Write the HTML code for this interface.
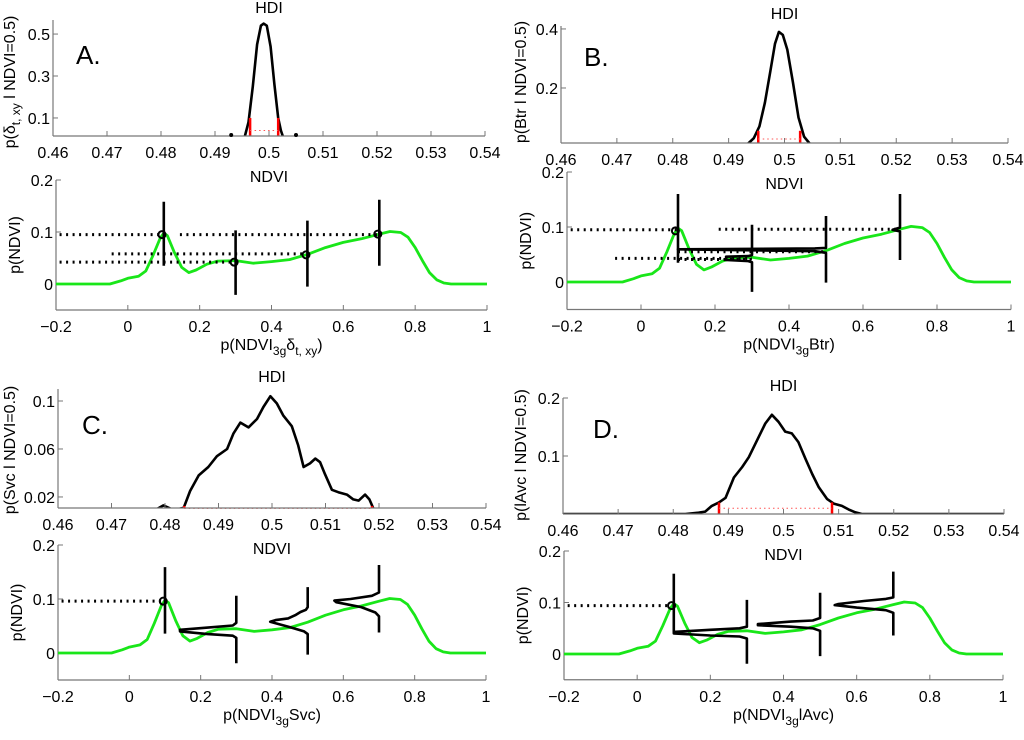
<!DOCTYPE html>
<html><head><meta charset="utf-8"><style>
html,body{margin:0;padding:0;background:#fff;}
svg text{font-family:"Liberation Sans",sans-serif;fill:#000;}
</style></head><body>
<svg id="fig" width="1024" height="735" viewBox="0 0 1024 735" xmlns="http://www.w3.org/2000/svg"></svg>
<script>
// ---- data ----
const ndviX = [-0.2,-0.1,-0.05,-0.02,0,0.03,0.05,0.07,0.09,0.1,0.11,0.13,0.15,0.17,0.19,0.22,0.25,0.3,0.35,0.4,0.45,0.5,0.55,0.6,0.65,0.7,0.73,0.76,0.78,0.8,0.82,0.84,0.86,0.88,0.9,1.0];
const ndviY = [0,0,0,0.006,0.011,0.015,0.025,0.055,0.088,0.098,0.093,0.06,0.032,0.022,0.027,0.038,0.044,0.045,0.04,0.043,0.047,0.057,0.07,0.08,0.087,0.096,0.101,0.099,0.09,0.07,0.045,0.022,0.008,0.002,0,0];

const hdiAX = [0.4955,0.4962,0.497,0.4978,0.4985,0.499,0.4996,0.5003,0.501,0.5017,0.5022,0.5026];
const hdiAY = [0.01,0.08,0.25,0.45,0.54,0.55,0.54,0.44,0.26,0.1,0.04,0.01];
const hdiBX = [0.4935,0.4945,0.4955,0.4965,0.4975,0.4983,0.499,0.4997,0.5005,0.5015,0.5025,0.5035,0.5045];
const hdiBY = [0.012,0.03,0.07,0.15,0.26,0.35,0.39,0.38,0.33,0.22,0.1,0.035,0.012];
const hdiCX = [0.4785,0.4797,0.4807,0.4816,0.4835,0.4847,0.4863,0.4881,0.4897,0.4916,0.4928,0.4941,0.4956,0.4972,0.4984,0.4997,0.5009,0.5021,0.5037,0.5049,0.5059,0.5071,0.5081,0.509,0.5099,0.5112,0.5124,0.514,0.5152,0.5162,0.5174,0.5182,0.519];
const hdiCY = [0.010,0.013,0.011,0.009,0.011,0.025,0.038,0.045,0.054,0.060,0.073,0.082,0.078,0.085,0.095,0.104,0.098,0.088,0.079,0.063,0.045,0.048,0.052,0.049,0.039,0.026,0.024,0.022,0.018,0.017,0.022,0.018,0.010];
const hdiDX = [0.46,0.4822,0.4846,0.4858,0.487,0.4883,0.4895,0.491,0.4925,0.4937,0.4955,0.4967,0.4979,0.4991,0.5003,0.5015,0.5027,0.504,0.5052,0.5064,0.5079,0.5091,0.5106,0.5118,0.513,0.5142,0.54];
const hdiDY = [0,0,0.0023,0.0041,0.014,0.020,0.028,0.063,0.081,0.098,0.133,0.156,0.171,0.159,0.142,0.139,0.124,0.095,0.069,0.046,0.026,0.018,0.014,0.008,0.003,0,0];

// HDI bounds [lo, hi, redTop, dottedY]
const hdiA = [0.4965,0.5017,0.1,0.04];
const hdiB = [0.4953,0.5028,0.055,0.027];
const hdiC = [0.4836,0.5187,0.0125,0.0105];
const hdiD = [0.4883,0.5088,0.02,0.01];

// sideways conditional densities
const sideA = [
 [[0.1,0.035],[0.1,0.158]],
 [[0.3,-0.021],[0.3,0.103]],
 [[0.5,-0.005],[0.5,0.122]],
 [[0.7,0.035],[0.7,0.162]]];
const circA = [[0.095,0.095],[0.296,0.042],[0.496,0.056],[0.696,0.096]];
const dotsA = [[-0.19,0.1,0.095],[0.145,0.7,0.095],[-0.045,0.5,0.058],[-0.19,0.3,0.042]];

const sideB = [
 [[0.1,0.035],[0.1,0.16]],
 [[0.3,-0.018],[0.3,0.036],[0.29,0.038],[0.23,0.04],[0.23,0.046],[0.29,0.047],[0.3,0.049],[0.3,0.104]],
 [[0.5,-0.001],[0.5,0.053],[0.47,0.056],[0.1,0.0595],[0.47,0.061],[0.5,0.062],[0.5,0.12]],
 [[0.7,0.04],[0.7,0.092],[0.68,0.095],[0.7,0.099],[0.7,0.16]]];
const circB = [[0.093,0.093]];
const dotsB = [[-0.19,0.1,0.095],[0.21,0.7,0.096],[0.1,0.5,0.055],[-0.07,0.3,0.043],[0.1,0.3,0.041]];

const sideC = [
 [[0.1,0.036],[0.1,0.159]],
 [[0.3,-0.019],[0.3,0.028],[0.29,0.032],[0.22,0.035],[0.142,0.04],[0.142,0.043],[0.22,0.047],[0.29,0.051],[0.3,0.056],[0.3,0.106]],
 [[0.5,-0.003],[0.5,0.035],[0.49,0.04],[0.45,0.048],[0.41,0.055],[0.395,0.058],[0.41,0.061],[0.445,0.064],[0.465,0.07],[0.48,0.076],[0.495,0.08],[0.5,0.085],[0.5,0.122]],
 [[0.7,0.038],[0.7,0.068],[0.69,0.075],[0.65,0.085],[0.58,0.094],[0.575,0.097],[0.62,0.1],[0.68,0.106],[0.7,0.112],[0.7,0.163]]];
const circC = [[0.095,0.096]];
const dotsC = [[-0.19,0.095,0.096]];

const sideD = [
 [[0.1,0.04],[0.1,0.156]],
 [[0.3,-0.019],[0.3,0.03],[0.28,0.034],[0.2,0.036],[0.1,0.04],[0.1,0.043],[0.2,0.047],[0.28,0.05],[0.3,0.053],[0.3,0.105]],
 [[0.5,-0.004],[0.5,0.045],[0.48,0.05],[0.42,0.053],[0.33,0.056],[0.33,0.058],[0.42,0.063],[0.48,0.065],[0.5,0.07],[0.5,0.119]],
 [[0.7,0.036],[0.7,0.08],[0.68,0.085],[0.6,0.09],[0.54,0.095],[0.55,0.097],[0.62,0.103],[0.68,0.107],[0.7,0.11],[0.7,0.16]]];
const circD = [[0.094,0.094]];
const dotsD = [[-0.19,0.094,0.094]];

const topXTicks = [0.46,0.47,0.48,0.49,0.5,0.51,0.52,0.53,0.54];
const topXLabels = ["0.46","0.47","0.48","0.49","0.5","0.51","0.52","0.53","0.54"];
const botXTicks = [-0.2,0,0.2,0.4,0.6,0.8,1];
const botXLabels = ["\u22120.2","0","0.2","0.4","0.6","0.8","1"];
const botYTicks = [0,0.1,0.2];
const botYLabels = ["0","0.1","0.2"];
const yTicksA=[0.1,0.3,0.5], yLabA=["0.1","0.3","0.5"];
const yTicksB=[0.2,0.4], yLabB=["0.2","0.4"];
const yTicksC=[0.02,0.06,0.1], yLabC=["0.02","0.06","0.1"];
const yTicksD=[0.1,0.2], yLabD=["0.1","0.2"];

// ---- drawing ----
const svg=document.getElementById('fig');
const NS='http://www.w3.org/2000/svg';
function mk(tag,attrs,parent){const e=document.createElementNS(NS,tag);for(const k in attrs)e.setAttribute(k,attrs[k]);(parent||svg).appendChild(e);return e;}
function scale(d0,d1,r0,r1){return v=>r0+(v-d0)/(d1-d0)*(r1-r0);}
function txt(x,y,s,size,anchor,parent,name,rot){const t=mk('text',{x:x,y:y,'font-size':size,'text-anchor':anchor||'middle'},parent);if(rot)t.setAttribute('transform','rotate(-90 '+x+' '+y+')');t.textContent=s;return t;}

function axes(g,sx,sy,x0,x1,y0,y1,xt,xl,yt,yl,tickLen){
  mk('line',{x1:x0,y1:y1,x2:x0,y2:y0,stroke:'#777','stroke-width':1.2},g);
  mk('line',{x1:x0,y1:y0,x2:x1,y2:y0,stroke:'#777','stroke-width':1.2},g);
  xt.forEach((v,i)=>{const x=sx(v);const l=mk('line',{x1:x,y1:y0,x2:x,y2:y0-tickLen,stroke:'#777','stroke-width':1},g);
    
    txt(x,y0+22,xl[i],16,'middle',g,'x-tick-label');});
  yt.forEach((v,i)=>{const y=sy(v);const l=mk('line',{x1:x0,y1:y,x2:x0+tickLen,y2:y,stroke:'#777','stroke-width':1},g);
    
    txt(x0-3,y+6,yl[i],16,'end',g,'y-tick-label');});
}
function poly(g,xs,ys,sx,sy,attrs,name){const pts=xs.map((x,i)=>sx(x).toFixed(1)+','+sy(ys[i]).toFixed(1)).join(' ');
  const p=mk('polyline',Object.assign({points:pts,fill:'none'},attrs),g);return p;}

function topPanel(cfg){
  const g=mk('g',{});
  const sx=scale(0.46,0.54,cfg.x0,cfg.x1), sy=scale(cfg.ymin,cfg.ymax,cfg.y0,cfg.y1);
  const cp=mk('clipPath',{id:'c'+cfg.name},g);mk('rect',{x:cfg.x0,y:cfg.y1-5,width:cfg.x1-cfg.x0,height:cfg.y0-cfg.y1+5},cp);
  const cg=mk('g',{'clip-path':'url(#c'+cfg.name+')'},g);
  poly(cg,cfg.xs,cfg.ys,sx,sy,{stroke:'#000','stroke-width':2.6,'stroke-linejoin':'round'},'posterior-curve');
  const h=cfg.hdi;
  [h[0],h[1]].forEach(v=>{const l=mk('line',{x1:sx(v),y1:cfg.y0,x2:sx(v),y2:sy(h[2]),stroke:'#f00','stroke-width':2.5},g);});
  const d=mk('line',{x1:sx(h[0]),y1:sy(h[3]),x2:sx(h[1]),y2:sy(h[3]),stroke:'#f55','stroke-width':1,'stroke-dasharray':'1.5 3'},g);
  
  axes(g,sx,sy,cfg.x0,cfg.x1,cfg.y0,cfg.y1,topXTicks,topXLabels,cfg.yt,cfg.yl,5);
  txt((cfg.x0+cfg.x1)/2,cfg.y1-7,'HDI',16,'middle',g,'plot-title');
  txt((cfg.x0+cfg.x1)/2,cfg.y0+46,'NDVI',16,'middle',g,'x-axis-title');
  const yl=mk('text',{x:cfg.ylx,y:cfg.yly,'font-size':16,'text-anchor':'middle',transform:'rotate(-90 '+cfg.ylx+' '+cfg.yly+')'},g);
  
  yl.innerHTML=cfg.ylab;
  txt(cfg.lx,cfg.ly,cfg.letter,26,'start',g,'panel-letter');
  (cfg.extraDots||[]).forEach(v=>{const c=mk('circle',{cx:sx(v),cy:cfg.y0-1,r:2,fill:'#000'},g);});
}
function botPanel(cfg){
  const g=mk('g',{});
  const sx=scale(-0.2,1,cfg.x0,cfg.x1), sy=scale(0,0.2,cfg.yz,cfg.y1);
  const y0=sy(-0.05);
  axes(g,sx,sy,cfg.x0,cfg.x1,y0,cfg.y1,botXTicks,botXLabels,botYTicks,botYLabels,5);
  poly(g,ndviX,ndviY,sx,sy,{stroke:'#19e619','stroke-width':2.8,'stroke-linejoin':'round'},'ndvi-density');
  cfg.dots.forEach(d=>{const l=mk('line',{x1:sx(d[0]),y1:sy(d[2]),x2:sx(d[1]),y2:sy(d[2]),stroke:'#000','stroke-width':3,'stroke-dasharray':'2 4.5'},g);});
  cfg.side.forEach(s=>poly(g,s.map(p=>p[0]),s.map(p=>p[1]),sx,sy,{stroke:'#000','stroke-width':2.6,'stroke-linejoin':'round'},'conditional-density'));
  cfg.circ.forEach(c=>{const e=mk('circle',{cx:sx(c[0]),cy:sy(c[1]),r:3.5,fill:'none',stroke:'#000','stroke-width':2},g);});
  const cx=(cfg.x0+cfg.x1)/2;
  const xl=mk('text',{x:cx,y:y0+40,'font-size':16,'text-anchor':'middle'},g);
  
  xl.innerHTML=cfg.xlab;
  txt(cfg.x0-36,(cfg.y1+y0)/2,'p(NDVI)',16,'middle',g,'y-axis-title',true);
}

topPanel({name:'panel-a-hdi',x0:53,x1:485,y0:136,y1:20,ymin:0.014,ymax:0.567,xs:hdiAX,ys:hdiAY,hdi:hdiA,yt:yTicksA,yl:yLabA,
  ylx:15,yly:82,ylab:'p(δ<tspan font-size="12" dy="5">t, xy</tspan><tspan dy="-5"> l NDVI=0.5)</tspan>',letter:'A.',lx:76,ly:64,extraDots:[0.493,0.505]});
botPanel({name:'panel-a-ndvi',x0:56,x1:487,yz:284,y1:180,side:sideA,circ:circA,dots:dotsA,
  xlab:'p(NDVI<tspan font-size="12" dy="5">3g</tspan><tspan dy="-5">δ</tspan><tspan font-size="12" dy="5">t, xy</tspan><tspan dy="-5">)</tspan>'});
topPanel({name:'panel-b-hdi',x0:561,x1:1008,y0:143,y1:26,ymin:0.0136,ymax:0.41,xs:hdiBX,ys:hdiBY,hdi:hdiB,yt:yTicksB,yl:yLabB,
  ylx:526,yly:82,ylab:'p(Btr l NDVI=0.5)',letter:'B.',lx:584,ly:66});
botPanel({name:'panel-b-ndvi',x0:567,x1:1011,yz:282,y1:172,side:sideB,circ:circB,dots:dotsB,
  xlab:'p(NDVI<tspan font-size="12" dy="5">3g</tspan><tspan dy="-5">Btr)</tspan>'});
topPanel({name:'panel-c-hdi',x0:58,x1:486,y0:508,y1:389,ymin:0.0108,ymax:0.11,xs:hdiCX,ys:hdiCY,hdi:hdiC,yt:yTicksC,yl:yLabC,
  ylx:15,yly:450,ylab:'p(Svc l NDVI=0.5)',letter:'C.',lx:82,ly:434});
botPanel({name:'panel-c-ndvi',x0:58,x1:486,yz:653,y1:545,side:sideC,circ:circC,dots:dotsC,
  xlab:'p(NDVI<tspan font-size="12" dy="5">3g</tspan><tspan dy="-5">Svc)</tspan>'});
topPanel({name:'panel-d-hdi',x0:563,x1:1004,y0:514,y1:398,ymin:0.0,ymax:0.2,xs:hdiDX,ys:hdiDY,hdi:hdiD,yt:yTicksD,yl:yLabD,
  ylx:526,yly:455,ylab:'p(lAvc l NDVI=0.5)',letter:'D.',lx:593,ly:438});
botPanel({name:'panel-d-ndvi',x0:564,x1:1003,yz:654,y1:551,side:sideD,circ:circD,dots:dotsD,
  xlab:'p(NDVI<tspan font-size="12" dy="5">3g</tspan><tspan dy="-5">lAvc)</tspan>'});
</script>
</body></html>
